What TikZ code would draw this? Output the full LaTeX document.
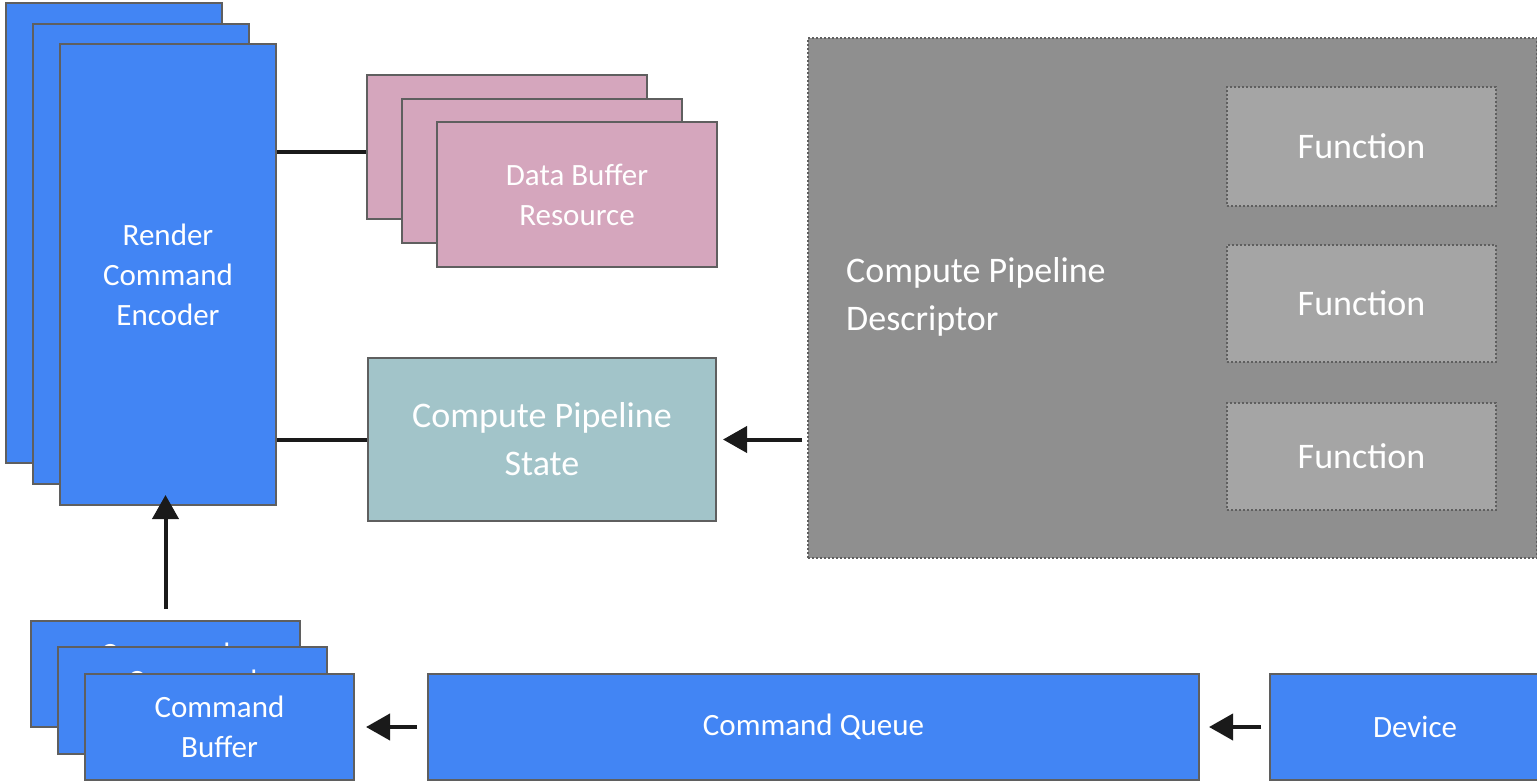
\documentclass[tikz,border=0pt]{standalone}
\usepackage{fontspec}
\setmainfont{Carlito}
\usetikzlibrary{arrows.meta}
\definecolor{gblue}{HTML}{4285F4}
\definecolor{bord}{HTML}{5F5F5F}
\definecolor{pinkf}{HTML}{D5A6BD}
\definecolor{tealf}{HTML}{A2C4C9}
\definecolor{bigg}{HTML}{8F8F8F}
\definecolor{fung}{HTML}{A5A5A5}
\definecolor{arr}{HTML}{1A1A1A}
\begin{document}
\begin{tikzpicture}[x=1pt,y=-1pt,
  box/.style={draw=bord,line width=2pt,inner sep=0pt,text=white,align=center,font=\fontsize{31}{40}\selectfont},
  bluebox/.style={box,fill=gblue},
  pinkbox/.style={box,fill=pinkf},
  tealbox/.style={box,fill=tealf,font=\fontsize{36}{48}\selectfont},
  dotbox/.style={draw=bord,line width=2pt,dash pattern=on 2pt off 2pt,inner sep=0pt,text=white,font=\fontsize{36}{48}\selectfont},
  conn/.style={draw=arr,line width=4pt},
  arrowc/.style={conn,-{Triangle[length=24pt,width=26pt]}}]
\useasboundingbox (0,0) rectangle (1537,782);
% Render Command Encoder stack
\node[bluebox,minimum width=216,minimum height=460] (rce3) at (114,233) {};
\node[bluebox,minimum width=216,minimum height=460] (rce2) at (141,254) {};
\node[bluebox,minimum width=216,minimum height=461] (rce) at (168,274.5) {Render\\Command\\Encoder};
% Data buffer stack
\node[pinkbox,minimum width=280,minimum height=144] (db3) at (507,147) {};
\node[pinkbox,minimum width=280,minimum height=144] (db2) at (542,171) {};
\node[pinkbox,minimum width=280,minimum height=145] (db) at (577,194.5) {Data Buffer\\Resource};
\coordinate (dbin) at ([yshift=-5pt]db3.west);
% Compute pipeline state
\node[tealbox,minimum width=348,minimum height=163] (cps) at (542,439.5) {Compute Pipeline\\State};
% Descriptor
\node[dotbox,fill=bigg,minimum width=729,minimum height=520] (cpdbox) at (1172.5,298) {};
\node[anchor=west,text=white,align=left,inner sep=0pt,font=\fontsize{36}{48}\selectfont] (cpd) at (846,297) {Compute Pipeline\\Descriptor};
\node[dotbox,fill=fung,minimum width=269,minimum height=119] (f1) at (1361.5,146.5) {Function};
\node[dotbox,fill=fung,minimum width=269,minimum height=117] (f2) at (1361.5,303.5) {Function};
\node[dotbox,fill=fung,minimum width=269,minimum height=107] (f3) at (1361.5,456.5) {Function};
% Command buffer stack
\node[bluebox,minimum width=269,minimum height=106] (cb3) at (165.5,674) {Command\\Buffer};
\node[bluebox,minimum width=269,minimum height=107] (cb2) at (192.5,700.5) {Command\\Buffer};
\node[bluebox,minimum width=269,minimum height=106] (cb) at (219.5,727) {Command\\Buffer};
% Queue and device
\node[bluebox,minimum width=771,minimum height=106] (cq) at (813.5,727) {Command Queue};
\node[bluebox,minimum width=290,minimum height=106] (dev) at (1415,727) {Device};
% connectors
\draw[conn] (rce.east |- dbin) -- (dbin);
\draw[conn] (rce.east |- cps.west) -- (cps.west);
\draw[arrowc] ([xshift=-5pt]cpdbox.west |- cps.east) -- ([xshift=6pt]cps.east);
\draw[arrowc] ([yshift=11pt]cb3.north) -- ([yshift=11pt]cb3.north |- rce.south);
\draw[arrowc] ([xshift=-10pt]cq.west) -- ([xshift=11pt]cb.east);
\draw[arrowc] ([xshift=-8pt]dev.west) -- ([xshift=9pt]cq.east);
\end{tikzpicture}
\end{document}
